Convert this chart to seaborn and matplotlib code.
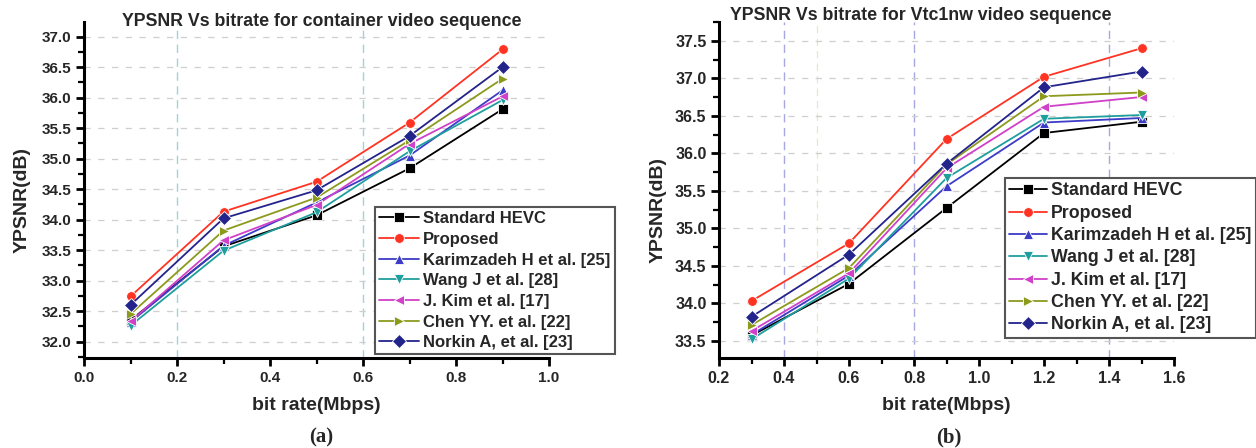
import numpy as np
import pandas as pd
import matplotlib
matplotlib.use("Agg")
import matplotlib.pyplot as plt
import seaborn as sns
from matplotlib.ticker import MultipleLocator, FormatStrFormatter

methods = ["Standard HEVC", "Proposed", "Karimzadeh H et al. [25]", "Wang J et al. [28]",
           "J. Kim et al. [17]", "Chen YY. et al. [22]", "Norkin A, et al. [23]"]

# Panel (a): container sequence
bitrate_a = [0.1, 0.3, 0.5, 0.7, 0.9]
hevc_a      = [32.35, 33.56, 34.07, 34.84, 35.81]
proposed_a  = [32.74, 34.13, 34.62, 35.59, 36.79]
karim_a     = [32.32, 33.57, 34.28, 35.05, 36.12]
wang_a      = [32.26, 33.49, 34.12, 35.12, 35.96]
kim_a       = [32.33, 33.66, 34.24, 35.24, 36.02]
chen_a      = [32.45, 33.82, 34.36, 35.30, 36.31]
norkin_a    = [32.60, 34.02, 34.48, 35.37, 36.50]

# Panel (b): Vtc1nw sequence
bitrate_b = [0.3, 0.6, 0.9, 1.2, 1.5]
hevc_b      = [33.57, 34.26, 35.27, 36.27, 36.42]
proposed_b  = [34.03, 34.80, 36.19, 37.02, 37.40]
karim_b     = [33.58, 34.37, 35.56, 36.41, 36.47]
wang_b      = [33.52, 34.33, 35.67, 36.46, 36.51]
kim_b       = [33.63, 34.40, 35.80, 36.62, 36.75]
chen_b      = [33.71, 34.47, 35.85, 36.76, 36.81]
norkin_b    = [33.82, 34.65, 35.86, 36.88, 37.09]

colors = ["#000000", "#ff3322", "#3c3cc8", "#1f9e9e", "#d040c8", "#8c9a1c", "#23238c"]
markers = ["s", "o", "^", "v", "<", ">", "D"]

vgrid_a = [0.2, 0.6]
vgrid_b = [0.4, 0.8, 1.4]
vgrid_b_faint = [0.5]


def long_df(x, series):
    rows = []
    for name, vals in zip(methods, series):
        for xi, yi in zip(x, vals):
            rows.append({"bitrate": xi, "ypsnr": yi, "method": name})
    return pd.DataFrame(rows)


df_a = long_df(bitrate_a, [hevc_a, proposed_a, karim_a, wang_a, kim_a, chen_a, norkin_a])
df_b = long_df(bitrate_b, [hevc_b, proposed_b, karim_b, wang_b, kim_b, chen_b, norkin_b])

sns.set_theme(style="white")
plt.rcParams['font.family'] = ['Liberation Sans', 'DejaVu Sans']
plt.rcParams['font.weight'] = 'bold'

W, H = 1256, 448
fig = plt.figure(figsize=(W / 100, H / 100), dpi=100)
ax1 = fig.add_axes([84 / W, (H - 358) / H, 465 / W, 336 / H])
ax2 = fig.add_axes([719 / W, (H - 358) / H, 455 / W, 336 / H])

pal = dict(zip(methods, colors))
mk = dict(zip(methods, markers))


def draw(ax, df, title, title_x, title_y, xlim, ylim, tick_fs, leg_anchor, leg_fs,
         leg_spacing, leg_hl, vlines, vcolor, ylab_xy, faint=None):
    sns.lineplot(data=df, x="bitrate", y="ypsnr", hue="method", style="method",
                 hue_order=methods, style_order=methods, palette=pal, markers=mk,
                 dashes=False, markersize=7, linewidth=1.3, markeredgewidth=0.6,
                 ax=ax, legend=True)
    ax.set_xlim(*xlim)
    ax.set_ylim(*ylim)
    ax.xaxis.set_major_locator(MultipleLocator(0.2))
    ax.xaxis.set_minor_locator(MultipleLocator(0.1))
    ax.yaxis.set_major_locator(MultipleLocator(0.5))
    ax.yaxis.set_minor_locator(MultipleLocator(0.25))
    ax.xaxis.set_major_formatter(FormatStrFormatter('%.1f'))
    ax.yaxis.set_major_formatter(FormatStrFormatter('%.1f'))
    for s in ["top", "right"]:
        ax.spines[s].set_visible(False)
    for s in ["left", "bottom"]:
        ax.spines[s].set_linewidth(2.2)
        ax.spines[s].set_color("black")
    ax.tick_params(which="major", direction="out", length=6, width=2.0, labelsize=tick_fs,
                   left=True, bottom=True, color="black", pad=3)
    ax.tick_params(which="minor", direction="out", length=4, width=1.6,
                   left=True, bottom=True, color="black")
    for lab in ax.get_xticklabels() + ax.get_yticklabels():
        lab.set_fontweight("bold")
    ax.yaxis.grid(True, which="major", linestyle=(0, (5, 6)), color="#cfcfcf", linewidth=0.9)
    ax.xaxis.grid(False)
    for v in vlines:
        ax.axvline(v, linestyle=(0, (6, 4)), color=vcolor, linewidth=1.0, zorder=0)
    if faint:
        for v in faint:
            ax.axvline(v, linestyle=(0, (6, 4)), color="#e6eac4", linewidth=0.9, zorder=0)
    ax.text(title_x, title_y, title, transform=ax.transAxes, fontsize=12.8,
            fontweight="bold", ha="center", va="center")
    ax.set_xlabel("bit rate(Mbps)", fontsize=14, fontweight="bold")
    ax.xaxis.set_label_coords(0.5, -0.116)
    ax.set_ylabel("YPSNR(dB)", fontsize=14, fontweight="bold")
    ax.yaxis.set_label_coords(*ylab_xy)
    handles, labels = ax.get_legend_handles_labels()
    leg = ax.legend(handles, labels, loc="upper left", bbox_to_anchor=leg_anchor,
                    bbox_transform=fig.transFigure, fontsize=leg_fs, frameon=True,
                    fancybox=False, framealpha=1, edgecolor="#555555",
                    handlelength=leg_hl, handletextpad=0.25, labelspacing=leg_spacing,
                    borderpad=0.25, borderaxespad=0)
    leg.get_frame().set_linewidth(1.5)
    for t in leg.get_texts():
        t.set_fontweight("bold")
    leg.set_zorder(10)


draw(ax1, df_a, "YPSNR Vs bitrate for container video sequence", 0.512, 1.0,
     (0.0, 1.0), (31.73, 37.24), 11, (375 / W, (H - 207) / H), 12, 0.34, 2.4,
     vgrid_a, "#9fd4d4", (-0.115, 0.47))
draw(ax2, df_b, "YPSNR Vs bitrate for Vtc1nw video sequence", 0.444, 1.018,
     (0.2, 1.6), (33.27, 37.75), 11.5, (1005 / W, (H - 178) / H), 12.8, 0.30, 2.1,
     vgrid_b, "#a8a8e0", (-0.116, 0.44), vgrid_b_faint)

fig.text(321 / W, 1 - 437 / H, "(a)", fontsize=15, fontweight="bold",
         family=["Liberation Serif", "DejaVu Serif"], ha="center", va="center")
fig.text(949 / W, 1 - 437 / H, "(b)", fontsize=15, fontweight="bold",
         family=["Liberation Serif", "DejaVu Serif"], ha="center", va="center")

fig.savefig("out.png", dpi=100)
